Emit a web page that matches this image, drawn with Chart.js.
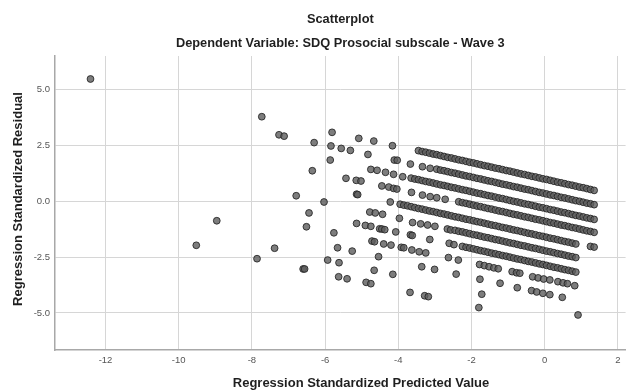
<!DOCTYPE html>
<html>
<head>
<meta charset="utf-8">
<title>Scatterplot</title>
<script src="https://cdn.jsdelivr.net/npm/chart.js@4"></script>
<style>
  body { margin: 0; background: #ffffff; }
  #wrap { width: 630px; height: 392px; }
</style>
</head>
<body>
<div id="wrap"><canvas id="scatter" width="630" height="392"></canvas></div>
<script>
/* SPSS residual scatterplot - regression standardized residual vs predicted */

const chartTitle = 'Scatterplot';
const chartSubtitle = 'Dependent Variable: SDQ Prosocial subscale - Wave 3';
const xAxisTitle = 'Regression Standardized Predicted Value';
const yAxisTitle = 'Regression Standardized Residual';

const xTicks = [-12, -10, -8, -6, -4, -2, 0, 2];
const yTicks = [-5, -2.5, 0, 2.5, 5];

// dense diagonal bands [predicted, residual], top band first
const band1 = [[-3.45,2.27],[-3.35,2.23],[-3.25,2.20],[-3.15,2.16],[-3.05,2.12],[-2.95,2.09],[-2.85,2.05],[-2.75,2.01],[-2.65,1.97],[-2.55,1.94],[-2.45,1.90],[-2.35,1.86],[-2.25,1.83],[-2.15,1.79],[-2.05,1.75],[-1.95,1.72],[-1.85,1.68],[-1.75,1.64],[-1.65,1.60],[-1.55,1.57],[-1.45,1.53],[-1.35,1.49],[-1.25,1.46],[-1.15,1.42],[-1.05,1.38],[-0.95,1.35],[-0.85,1.31],[-0.75,1.27],[-0.65,1.23],[-0.55,1.20],[-0.45,1.16],[-0.35,1.12],[-0.25,1.09],[-0.15,1.05],[-0.05,1.01],[0.05,0.98],[0.15,0.94],[0.25,0.90],[0.35,0.86],[0.45,0.83],[0.55,0.79],[0.65,0.75],[0.75,0.72],[0.85,0.68],[0.95,0.64],[1.05,0.61],[1.15,0.57],[1.25,0.53],[1.35,0.49]];
const band2 = [[-2.95,1.44],[-2.85,1.40],[-2.75,1.37],[-2.65,1.33],[-2.55,1.29],[-2.45,1.26],[-2.35,1.22],[-2.25,1.18],[-2.15,1.14],[-2.05,1.11],[-1.95,1.07],[-1.85,1.03],[-1.75,1.00],[-1.65,0.96],[-1.55,0.92],[-1.45,0.89],[-1.35,0.85],[-1.25,0.81],[-1.15,0.77],[-1.05,0.74],[-0.95,0.70],[-0.85,0.66],[-0.75,0.63],[-0.65,0.59],[-0.55,0.55],[-0.45,0.52],[-0.35,0.48],[-0.25,0.44],[-0.15,0.40],[-0.05,0.37],[0.05,0.33],[0.15,0.29],[0.25,0.26],[0.35,0.22],[0.45,0.18],[0.55,0.15],[0.65,0.11],[0.75,0.07],[0.85,0.03],[0.95,0.00],[1.05,-0.04],[1.15,-0.08],[1.25,-0.11],[1.35,-0.15]];
const band3 = [[-3.65,1.04],[-3.55,1.00],[-3.45,0.97],[-3.35,0.93],[-3.25,0.89],[-3.15,0.86],[-3.05,0.82],[-2.95,0.78],[-2.85,0.74],[-2.75,0.71],[-2.65,0.67],[-2.55,0.63],[-2.45,0.60],[-2.35,0.56],[-2.25,0.52],[-2.15,0.49],[-2.05,0.45],[-1.95,0.41],[-1.85,0.37],[-1.75,0.34],[-1.65,0.30],[-1.55,0.26],[-1.45,0.23],[-1.35,0.19],[-1.25,0.15],[-1.15,0.12],[-1.05,0.08],[-0.95,0.04],[-0.85,0.00],[-0.75,-0.03],[-0.65,-0.07],[-0.55,-0.11],[-0.45,-0.14],[-0.35,-0.18],[-0.25,-0.22],[-0.15,-0.26],[-0.05,-0.29],[0.05,-0.33],[0.15,-0.37],[0.25,-0.40],[0.35,-0.44],[0.45,-0.48],[0.55,-0.51],[0.65,-0.55],[0.75,-0.59],[0.85,-0.63],[0.95,-0.66],[1.05,-0.70],[1.15,-0.74],[1.25,-0.77],[1.35,-0.81]];
const band4 = [[-2.35,-0.02],[-2.25,-0.06],[-2.15,-0.09],[-2.05,-0.13],[-1.95,-0.17],[-1.85,-0.21],[-1.75,-0.24],[-1.65,-0.28],[-1.55,-0.32],[-1.45,-0.35],[-1.35,-0.39],[-1.25,-0.43],[-1.15,-0.46],[-1.05,-0.50],[-0.95,-0.54],[-0.85,-0.58],[-0.75,-0.61],[-0.65,-0.65],[-0.55,-0.69],[-0.45,-0.72],[-0.35,-0.76],[-0.25,-0.80],[-0.15,-0.83],[-0.05,-0.87],[0.05,-0.91],[0.15,-0.95],[0.25,-0.98],[0.35,-1.02],[0.45,-1.06],[0.55,-1.09],[0.65,-1.13],[0.75,-1.17],[0.85,-1.20],[0.95,-1.24],[1.05,-1.28],[1.15,-1.32],[1.25,-1.35],[1.35,-1.39]];
const band5 = [[-3.95,-0.13],[-3.85,-0.17],[-3.75,-0.20],[-3.65,-0.24],[-3.55,-0.28],[-3.45,-0.32],[-3.35,-0.35],[-3.25,-0.39],[-3.15,-0.43],[-3.05,-0.46],[-2.95,-0.50],[-2.85,-0.54],[-2.75,-0.57],[-2.65,-0.61],[-2.55,-0.65],[-2.45,-0.69],[-2.35,-0.72],[-2.25,-0.76],[-2.15,-0.80],[-2.05,-0.83],[-1.95,-0.87],[-1.85,-0.91],[-1.75,-0.94],[-1.65,-0.98],[-1.55,-1.02],[-1.45,-1.06],[-1.35,-1.09],[-1.25,-1.13],[-1.15,-1.17],[-1.05,-1.20],[-0.95,-1.24],[-0.85,-1.28],[-0.75,-1.31],[-0.65,-1.35],[-0.55,-1.39],[-0.45,-1.43],[-0.35,-1.46],[-0.25,-1.50],[-0.15,-1.54],[-0.05,-1.57],[0.05,-1.61],[0.15,-1.65],[0.25,-1.68],[0.35,-1.72],[0.45,-1.76],[0.55,-1.80],[0.65,-1.83],[0.75,-1.87],[0.85,-1.91],[1.25,-2.02],[1.35,-2.05]];
const band6 = [[-2.45,-1.30],[-2.35,-1.34],[-2.25,-1.37],[-2.15,-1.41],[-2.05,-1.45],[-1.95,-1.49],[-1.85,-1.52],[-1.75,-1.56],[-1.65,-1.60],[-1.55,-1.63],[-1.45,-1.67],[-1.35,-1.71],[-1.25,-1.74],[-1.15,-1.78],[-1.05,-1.82],[-0.95,-1.86],[-0.85,-1.89],[-0.75,-1.93],[-0.65,-1.97],[-0.55,-2.00],[-0.45,-2.04],[-0.35,-2.08],[-0.25,-2.11],[-0.15,-2.15],[-0.05,-2.19],[0.05,-2.23],[0.15,-2.26],[0.25,-2.30],[0.35,-2.34],[0.45,-2.37],[0.55,-2.41],[0.65,-2.45],[0.75,-2.48],[0.85,-2.52]];
const band7 = [[-2.25,-2.02],[-2.15,-2.06],[-2.05,-2.09],[-1.95,-2.13],[-1.85,-2.17],[-1.75,-2.21],[-1.65,-2.24],[-1.55,-2.28],[-1.45,-2.32],[-1.35,-2.35],[-1.25,-2.39],[-1.15,-2.43],[-1.05,-2.46],[-0.95,-2.50],[-0.85,-2.54],[-0.75,-2.58],[-0.65,-2.61],[-0.55,-2.65],[-0.45,-2.69],[-0.35,-2.72],[-0.25,-2.76],[-0.15,-2.80],[-0.05,-2.83],[0.05,-2.87],[0.15,-2.91],[0.25,-2.95],[0.35,-2.98],[0.45,-3.02],[0.55,-3.06],[0.65,-3.09],[0.75,-3.13],[0.85,-3.17]];

// loose cases outside the dense bands
const scattered = [
  [-12.41,5.48],[-9.52,-1.97],[-8.96,-0.87],[-7.86,-2.57],[-7.73,3.79],[-7.38,-2.10],[-7.26,2.98],[-7.12,2.92],
  [-6.79,0.25],[-6.60,-3.03],[-6.56,-3.03],[-6.51,-1.14],[-6.44,-0.52],[-6.35,1.37],[-6.30,2.63],[-6.03,-0.03],
  [-5.93,-2.63],[-5.86,1.85],[-5.84,2.48],[-5.81,3.09],[-5.76,-1.41],[-5.66,-2.08],[-5.63,-3.38],[-5.62,-2.75],
  [-5.56,2.37],[-5.43,1.03],[-5.40,-3.47],[-5.31,2.28],[-5.26,-2.23],[-5.15,0.94],[-5.14,0.32],[-5.14,-0.99],
  [-5.11,0.30],[-5.08,2.82],[-5.02,0.91],[-4.90,-1.08],[-4.88,-3.63],[-4.83,2.10],[-4.78,-0.48],[-4.75,1.43],
  [-4.75,-1.12],[-4.75,-3.69],[-4.72,-1.78],[-4.67,2.70],[-4.66,-3.09],[-4.65,-1.81],[-4.63,-0.52],[-4.58,1.39],
  [-4.54,-2.48],[-4.51,-1.23],[-4.45,0.69],[-4.45,-1.24],[-4.43,-0.58],[-4.40,-1.91],[-4.37,-1.27],[-4.35,1.30],
  [-4.26,0.64],[-4.22,-0.03],[-4.20,-1.96],[-4.16,2.49],[-4.15,-3.27],[-4.13,1.21],[-4.13,0.58],[-4.11,1.85],
  [-4.07,-1.37],[-4.04,0.55],[-4.03,1.84],[-3.97,-0.76],[-3.92,-2.06],[-3.88,1.10],[-3.85,-2.08],[-3.68,-4.08],
  [-3.67,1.67],[-3.67,-1.50],[-3.64,0.40],[-3.63,-2.18],[-3.62,-1.53],[-3.61,-0.95],[-3.43,-2.26],[-3.39,-1.01],
  [-3.36,-2.93],[-3.34,1.55],[-3.34,0.28],[-3.28,-4.23],[-3.25,-2.31],[-3.20,-1.06],[-3.18,-4.27],[-3.14,-1.71],
  [-3.13,1.48],[-3.13,0.21],[-3.01,-3.05],[-3.00,-1.12],[-2.95,0.16],[-2.72,0.09],[-2.66,-1.24],[-2.63,-2.52],
  [-2.61,-1.88],[-2.57,-1.28],[-2.48,-1.94],[-2.42,-3.26],[-2.36,-2.63],[-1.80,-4.76],[-1.78,-2.83],[-1.77,-3.49],
  [-1.72,-4.16],[-1.65,-2.88],[-1.52,-2.93],[-1.39,-2.98],[-1.27,-3.02],[-1.22,-3.67],[-0.89,-3.15],[-0.77,-3.20],
  [-0.75,-3.87],[-0.68,-3.22],[-0.36,-4.00],[-0.33,-3.38],[-0.22,-4.06],[-0.18,-3.43],[-0.05,-4.12],[-0.03,-3.48],
  [0.14,-4.18],[0.14,-3.52],[0.36,-3.60],[0.48,-4.30],[0.50,-3.65],[0.62,-3.69],[0.82,-3.78],[0.91,-5.09]
];

const FONT = '"Liberation Sans", Arial, sans-serif';

function toPoints(list) {
  return list.map(([x, y]) => ({ x, y }));
}

const bandPoints = toPoints([band1, band2, band3, band4, band5, band6, band7].flat());
const loosePoints = toPoints(scattered);

const pointStyle = {
  pointRadius: 3.4,
  pointHoverRadius: 3.4,
  pointBackgroundColor: 'rgba(92, 92, 92, 0.8)',
  pointBorderColor: 'rgba(35, 35, 35, 0.85)',
  pointBorderWidth: 1,
  showLine: false,
};

// titles are drawn by hand so they sit where SPSS put them
const spssText = {
  id: 'spssText',
  afterDraw(chart) {
    const { ctx, chartArea } = chart;
    const cx = (chartArea.left + chartArea.right) / 2;
    ctx.save();
    ctx.fillStyle = '#1f1f1f';
    ctx.textAlign = 'center';
    ctx.textBaseline = 'middle';
    ctx.font = 'bold 12.8px ' + FONT;
    ctx.fillText(chartTitle, cx, 19);
    ctx.fillText(chartSubtitle, cx, 43);
    ctx.font = 'bold 13px ' + FONT;
    ctx.fillText(xAxisTitle, 361, 383);
    ctx.translate(18, (chartArea.top + chartArea.bottom) / 2 - 4);
    ctx.rotate(-Math.PI / 2);
    ctx.fillText(yAxisTitle, 0, 0);
    ctx.restore();
  },
};

new Chart(document.getElementById('scatter'), {
  type: 'scatter',
  data: {
    datasets: [
      { label: 'bands', data: bandPoints, ...pointStyle },
      { label: 'cases', data: loosePoints, ...pointStyle },
    ],
  },
  options: {
    responsive: false,
    animation: false,
    layout: { padding: { top: 56, right: 2, left: 0, bottom: 0 } },
    plugins: {
      legend: { display: false },
      tooltip: { enabled: false },
    },
    scales: {
      x: {
        type: 'linear',
        min: -13.38,
        max: 2.21,
        afterBuildTicks: (scale) => { scale.ticks = xTicks.map((v) => ({ value: v })); },
        afterFit: (scale) => { scale.height = 42; },
        grid: { color: '#d6d6d6', lineWidth: 1, drawTicks: false },
        border: { color: '#a8a8a8', width: 1.5 },
        ticks: {
          color: '#555555',
          font: { size: 9.5, family: FONT },
          padding: 5,
          maxRotation: 0,
          autoSkip: false,
          callback: (v) => String(v),
        },
      },
      y: {
        type: 'linear',
        min: -6.66,
        max: 6.51,
        afterBuildTicks: (scale) => { scale.ticks = yTicks.map((v) => ({ value: v })); },
        afterFit: (scale) => { scale.width = 55; },
        grid: { color: '#d6d6d6', lineWidth: 1, drawTicks: false },
        border: { color: '#a8a8a8', width: 1.5 },
        ticks: {
          color: '#555555',
          font: { size: 9.5, family: FONT },
          padding: 5,
          autoSkip: false,
          callback: (v) => v.toFixed(1),
        },
      },
    },
  },
  plugins: [spssText],
});
</script>
</body>
</html>
